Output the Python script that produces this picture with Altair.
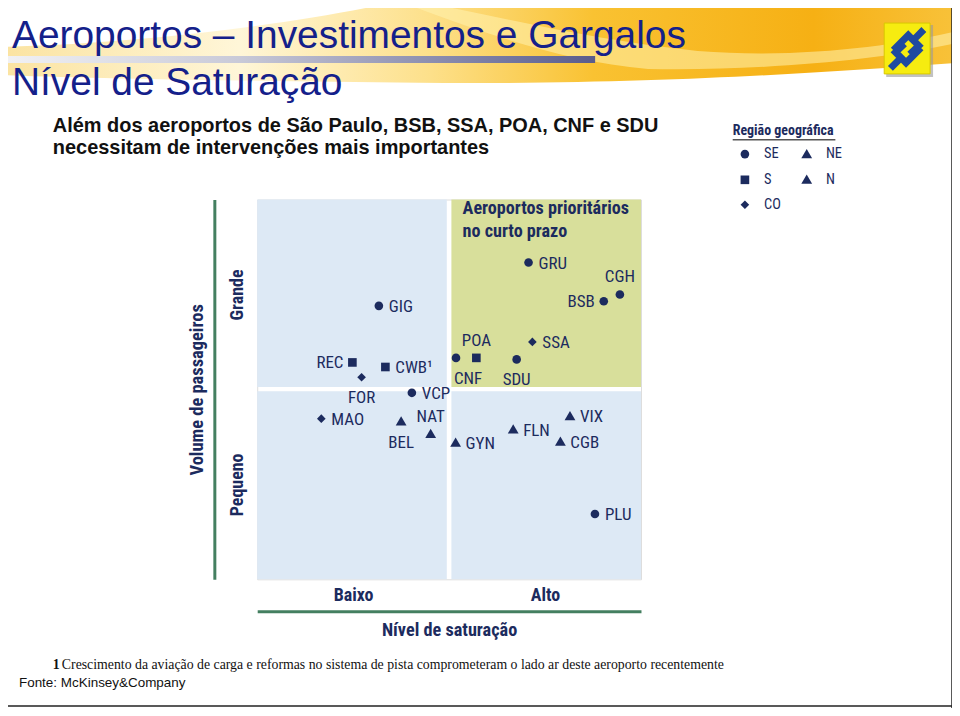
import altair as alt
import pandas as pd

# ---------------- data ----------------
airports = ["GRU", "CGH", "BSB", "GIG", "SSA", "POA", "CNF", "SDU", "REC", "CWB¹",
            "FOR", "VCP", "MAO", "BEL", "NAT", "GYN", "FLN", "VIX", "CGB", "PLU"]
saturation = [7.07, 9.45, 9.03, 3.17, 7.17, 5.71, 5.18, 6.76, 2.48, 3.34,
              2.72, 4.03, 1.67, 3.75, 4.52, 5.17, 6.67, 8.15, 7.90, 8.80]
volume = [8.34, 7.50, 7.32, 7.20, 6.25, 5.83, 5.83, 5.79, 5.71, 5.59,
          5.32, 4.91, 4.23, 4.15, 3.82, 3.59, 3.94, 4.29, 3.62, 1.72]
region = ["SE", "SE", "SE", "SE", "CO", "S", "SE", "SE", "S", "S",
          "CO", "SE", "CO", "N", "NE", "NE", "NE", "NE", "NE", "SE"]

region_order = ["SE", "S", "CO", "NE", "N"]
TRIANGLE = "M 0 -1.25 L 1.25 0.9 L -1.25 0.9 Z"
region_shapes = ["circle", "square", "diamond", TRIANGLE, TRIANGLE]

label_right = ["GRU", "GIG", "SSA", "CWB¹", "VCP", "MAO", "GYN", "FLN", "VIX", "CGB", "PLU"]
label_left = ["BSB", "REC"]
label_above = ["CGH", "POA", "NAT"]
label_below = ["SDU", "FOR", "BEL"]
label_below_start = ["CNF"]

quad_sat_from = [0, 5.06, 0, 5.06]
quad_sat_to = [4.94, 10, 4.94, 10]
quad_vol_from = [0, 0, 5.06, 5.06]
quad_vol_to = [4.95, 4.95, 10, 10]
quad_kind = ["normal", "normal", "normal", "prioritário"]

x_ticks = [2.5, 7.5]
y_ticks = [2.5, 7.5]

title1 = "Aeroportos – Investimentos e Gargalos"
title2 = "Nível de Saturação"
sub1 = "Além dos aeroportos de São Paulo, BSB, SSA, POA, CNF e SDU"
sub2 = "necessitam de intervenções mais importantes"
prio1 = "Aeroportos prioritários"
prio2 = "no curto prazo"
foot_num = "1"
foot_text = ("Crescimento da aviação de carga e reformas no sistema de pista "
             "comprometeram o lado ar deste aeroporto recentemente")
source = "Fonte: McKinsey&Company"

# ---------------- style ----------------
NAVY = "#1c2b5e"
TITLE_BLUE = "#14208a"
GREEN = "#447f60"
BLUE_BG = "#dde9f5"
OLIVE_BG = "#d8df9b"
NARROW = ("'Roboto Condensed', 'Noto Sans Condensed', 'Open Sans Condensed', "
          "'Liberation Sans Narrow', 'DejaVu Sans Condensed', sans-serif")
SANS = "'Liberation Sans', Arial, sans-serif"
SERIF = "'Liberation Serif', 'Times New Roman', serif"

W, H = 385, 381
OX, OY = 258, 199  # reference position of plot origin


def px(x):
    return x - OX


def py(y):
    return y - OY


df = pd.DataFrame({"airport": airports, "sat": saturation, "vol": volume, "region": region})
quads = pd.DataFrame({"s0": quad_sat_from, "s1": quad_sat_to,
                      "v0": quad_vol_from, "v1": quad_vol_to, "kind": quad_kind})

xs = alt.Scale(domain=[0, 10], nice=False, zero=False)
ys = alt.Scale(domain=[0, 10], nice=False, zero=False)

x_axis = alt.Axis(
    values=x_ticks, labelExpr="datum.value < 5 ? 'Baixo' : 'Alto'",
    ticks=False, tickSize=0, grid=False, domainColor=GREEN, domainWidth=3,
    offset=32, labelPadding=-16, labelBaseline="middle", labelAlign="center",
    labelFont=NARROW, labelFontWeight="bold", labelFontSize=18, labelColor=NAVY,
    title="Nível de saturação", titleFont=NARROW, titleFontWeight="bold",
    titleFontSize=18.3, titleColor=NAVY, titleX=W / 2, titleY=19,
    titleBaseline="middle", titleAlign="center", labelFlush=False)
y_axis = alt.Axis(
    values=y_ticks, labelExpr="datum.value < 5 ? 'Pequeno' : 'Grande'",
    ticks=False, tickSize=0, grid=False, domainColor=GREEN, domainWidth=3,
    offset=43, labelPadding=-23, labelAngle=270, labelBaseline="middle",
    labelAlign="center", labelFont=NARROW, labelFontWeight="bold", labelFontSize=18,
    labelColor=NAVY, title="Volume de passageiros", titleFont=NARROW,
    titleFontWeight="bold", titleFontSize=18.5, titleColor=NAVY, titleAngle=270,
    titleX=-18, titleY=H / 2, titleBaseline="middle", titleAlign="center",
    labelFlush=False)

# ---- header decoration (swoosh) ----
SC = 480.0
CX, CY = 480.0, 40.0


def P(x, y):
    return f"{(x - CX) / SC:.4f} {(y - CY) / SC:.4f}"


swoosh = (f"M {P(0, 46)} C {P(150, 42)} {P(300, 22)} {P(400, 0)} L {P(960, 0)} L {P(960, 62)} "
          f"C {P(820, 72)} {P(650, 84)} {P(420, 82)} C {P(250, 80)} {P(100, 78)} {P(0, 74)} Z")
highlight = (f"M {P(420, 0)} C {P(520, 20)} {P(600, 40)} {P(700, 50)} C {P(800, 58)} {P(900, 45)} {P(960, 30)} "
             f"L {P(960, 42)} C {P(880, 60)} {P(760, 70)} {P(650, 68)} C {P(560, 60)} {P(480, 30)} {P(400, 0)} Z")

swoosh_grad = {"gradient": "linear", "x1": 0, "x2": 1, "y1": 0, "y2": 0,
               "stops": [{"offset": 0, "color": "#fbe3a0"},
                         {"offset": 0.25, "color": "#fff6d8"},
                         {"offset": 0.45, "color": "#fde08a"},
                         {"offset": 0.62, "color": "#f9c232"},
                         {"offset": 0.85, "color": "#f6b014"},
                         {"offset": 1, "color": "#f8c23a"}]}

header = alt.Chart().mark_point(shape=swoosh, size=(2 * SC) ** 2, filled=True, opacity=1,
                                fill=swoosh_grad, strokeWidth=0).encode(
    x=alt.value(px(CX)), y=alt.value(py(CY)))
header_hl = alt.Chart().mark_point(shape=highlight, size=(2 * SC) ** 2, filled=True, opacity=0.55,
                                   fill="#fff3b0", strokeWidth=0).encode(
    x=alt.value(px(CX)), y=alt.value(py(CY)))

bar_grad = {"gradient": "linear", "x1": 0, "x2": 1, "y1": 0, "y2": 0,
            "stops": [{"offset": 0, "color": "#f2f2f4"},
                      {"offset": 0.4, "color": "#c9cad8"},
                      {"offset": 1, "color": "#595c8c"}]}
gray_bar = alt.Chart().mark_rect(fill=bar_grad).encode(
    x=alt.value(px(0)), x2=alt.value(px(597)), y=alt.value(py(55)), y2=alt.value(py(62)))

logo_shadow = alt.Chart().mark_rect(fill="#9a9a9a", opacity=0.6).encode(
    x=alt.value(px(889)), x2=alt.value(px(936)), y=alt.value(py(24)), y2=alt.value(py(76)))
logo_box = alt.Chart().mark_rect(fill="#f6ec10", stroke="#d8c800", strokeWidth=1).encode(
    x=alt.value(px(887)), x2=alt.value(px(933)), y=alt.value(py(22)), y2=alt.value(py(73)))
logo_path = ("M -0.62 0.05 L 0.05 -0.62 L 0.52 -0.15 L 0.12 0.24 "
             "M 0.62 -0.05 L -0.05 0.62 L -0.52 0.15 L -0.12 -0.24 "
             "M 0.3 -0.42 L 0.75 -0.87 M -0.3 0.42 L -0.75 0.87")
logo_sym = alt.Chart().mark_point(shape=logo_path, size=2000, filled=False, stroke="#1f4aa0",
                                  strokeWidth=7, opacity=1).encode(
    x=alt.value(px(910)), y=alt.value(py(48)))


def txt(text, x, y, size, font=SANS, weight="normal", color=NAVY, align="left",
        baseline="middle"):
    return alt.Chart().mark_text(text=text, fontSize=size, font=font, fontWeight=weight,
                                 color=color, align=align, baseline=baseline).encode(
        x=alt.value(px(x)), y=alt.value(py(y)))


titles = [
    txt(title1, 12, 47, 39, color=TITLE_BLUE, baseline="alphabetic"),
    txt(title2, 12, 94, 39, color=TITLE_BLUE, baseline="alphabetic"),
    txt(sub1, 53, 125, 20, weight="bold", color="#111111"),
    txt(sub2, 53, 147, 20, weight="bold", color="#111111"),
    txt(foot_num, 53, 666, 13.85, font=SERIF, weight="bold", color="#111111"),
    txt(foot_text, 62, 666, 13.85, font=SERIF, color="#111111"),
    txt(source, 19, 684, 13.5, color="#111111"),
]

# ---- quadrants ----
quad_layer = alt.Chart(quads).mark_rect().encode(
    x=alt.X("s0:Q", scale=xs, axis=x_axis), x2="s1:Q",
    y=alt.Y("v0:Q", scale=ys, axis=y_axis), y2="v1:Q",
    color=alt.Color("kind:N", scale=alt.Scale(domain=["normal", "prioritário"],
                                              range=[BLUE_BG, OLIVE_BG]), legend=None))

prio_text = [
    txt(prio1, 464, 209, 18.2, font=NARROW, weight="bold"),
    txt(prio2, 464, 232, 18.2, font=NARROW, weight="bold"),
]

# ---- points with legend ----
points = alt.Chart(df).mark_point(filled=True, size=75, opacity=1, color=NAVY).encode(
    x=alt.X("sat:Q", scale=xs, axis=x_axis),
    y=alt.Y("vol:Q", scale=ys, axis=y_axis),
    shape=alt.Shape("region:N", scale=alt.Scale(domain=region_order, range=region_shapes),
                    legend=alt.Legend(
                        orient="none", legendX=px(735), legendY=py(123), columns=2,
                        title="Região geográfica", titleFont=NARROW, titleFontWeight="bold",
                        titleFontSize=14, titleColor=NAVY, titlePadding=9,
                        labelFont=NARROW, labelFontSize=14.5, labelColor=NAVY,
                        symbolSize=75, symbolFillColor=NAVY, symbolStrokeColor=NAVY,
                        symbolOffset=5, labelOffset=12, rowPadding=9, columnPadding=13,
                        padding=0)),
)

legend_rule = alt.Chart().mark_rule(color="#555555", strokeWidth=1.5).encode(
    x=alt.value(px(735)), x2=alt.value(px(838)), y=alt.value(py(139)))


def labels(names, dx, dy, align):
    return alt.Chart(df).transform_filter(
        alt.FieldOneOfPredicate(field="airport", oneOf=names)
    ).mark_text(font=NARROW, fontSize=17, color=NAVY, align=align, baseline="middle",
                dx=dx, dy=dy).encode(
        x=alt.X("sat:Q", scale=xs, axis=x_axis),
        y=alt.Y("vol:Q", scale=ys, axis=y_axis),
        text="airport:N")


label_layers = [
    labels(label_right, 10, 1, "left"),
    labels(label_left, -9, 1, "right"),
    labels(label_above, 0, -17, "center"),
    labels(label_below, 0, 21, "center"),
    labels(label_below_start, -2, 21, "left"),
]

border_r = alt.Chart().mark_rule(color="#222222", strokeWidth=1.5).encode(
    x=alt.value(px(955)), y=alt.value(py(0)), y2=alt.value(py(712)))
border_b = alt.Chart().mark_rule(color="#222222", strokeWidth=1.5).encode(
    x=alt.value(px(0)), x2=alt.value(px(955)), y=alt.value(py(707)))

chart = alt.layer(
    header, header_hl, gray_bar, logo_shadow, logo_box, logo_sym,
    *titles, quad_layer, *prio_text, points, legend_rule, *label_layers,
    border_r, border_b,
).properties(
    width=W, height=H,
    padding={"left": 250, "top": 191, "right": 312, "bottom": 128},
    autosize=alt.AutoSizeParams(type="none"),
).configure_view(stroke=None).configure(background="white")

chart.save("out.html", embed_options={"renderer": "svg", "actions": False})
